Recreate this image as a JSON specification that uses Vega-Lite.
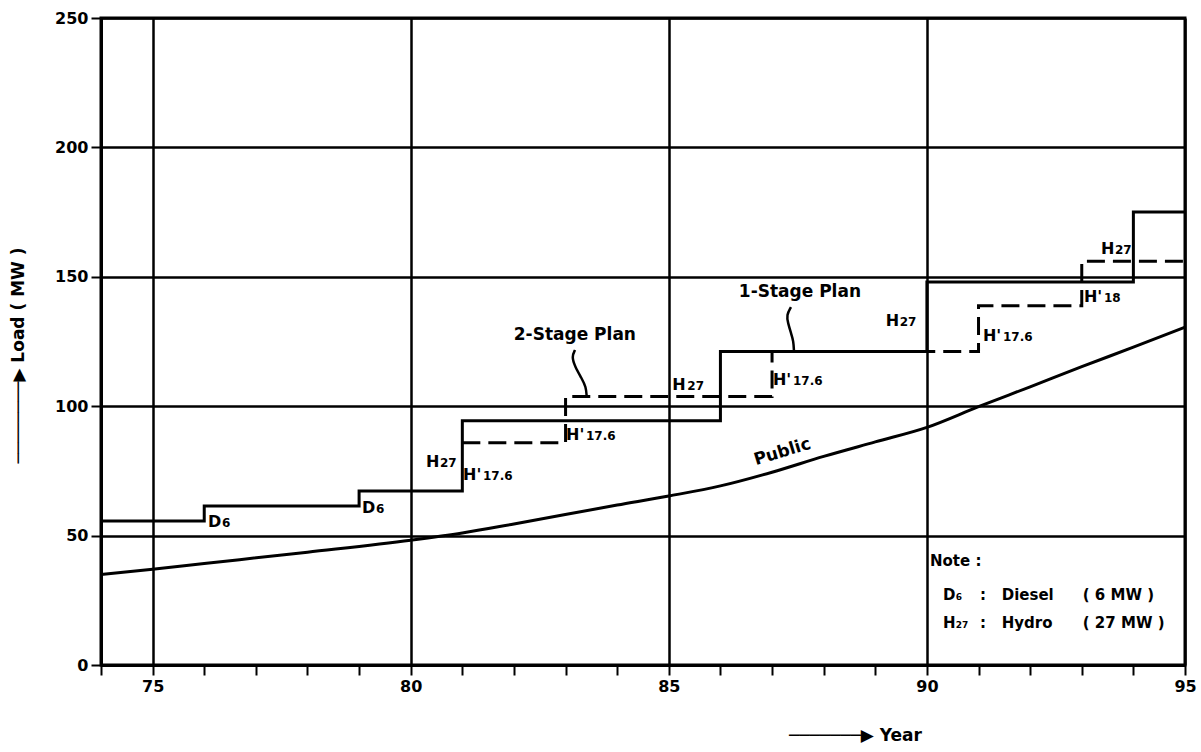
{
  "$schema": "https://vega.github.io/schema/vega-lite/v6.json",
  "width": 1084,
  "height": 647,
  "autosize": {"type": "none"},
  "padding": {"left": 101, "top": 18, "right": 16, "bottom": 87},
  "background": "white",
  "config": {
    "font": "DejaVu Sans",
    "view": {"stroke": "black", "strokeWidth": 3},
    "axis": {
      "domainColor": "black", "domainWidth": 3,
      "tickColor": "black", "tickWidth": 2,
      "labelColor": "black", "labelFont": "DejaVu Sans", "labelFontWeight": "bold", "labelFontSize": 16,
      "titleColor": "black", "titleFont": "DejaVu Sans", "titleFontWeight": "bold", "titleFontSize": 17,
      "gridColor": "black", "labelFlush": false, "labelOverlap": false
    }
  },
  "datasets": {
    "oneStage": [
      {"x": 74, "y": 55.6}, {"x": 76, "y": 61.4}, {"x": 79, "y": 67.2}, {"x": 81, "y": 94.4},
      {"x": 86, "y": 121.1}, {"x": 90, "y": 148}, {"x": 94, "y": 175}, {"x": 95, "y": 175}
    ],
    "twoStage": [
      {"x": 81, "y": 85.9}, {"x": 83, "y": 103.7}, {"x": 87, "y": 121.1},
      {"x": 91, "y": 138.8}, {"x": 93, "y": 156}, {"x": 95, "y": 156}
    ],
    "public": [
      {"x": 74, "y": 35}, {"x": 75, "y": 37}, {"x": 76, "y": 39.2}, {"x": 78, "y": 43.6},
      {"x": 80, "y": 48.2}, {"x": 81, "y": 51}, {"x": 82, "y": 54.5}, {"x": 84, "y": 61.8},
      {"x": 85, "y": 65.3}, {"x": 86, "y": 69.2}, {"x": 87, "y": 74.5}, {"x": 88, "y": 80.6},
      {"x": 89, "y": 86.2}, {"x": 90, "y": 91.8}, {"x": 91, "y": 99.8}, {"x": 92, "y": 107.5},
      {"x": 93, "y": 115.3}, {"x": 94, "y": 122.8}, {"x": 95, "y": 130.5}
    ],
    "leaders": [
      {"id": "one", "i": 1, "x": 87.367, "y": 138.3},
      {"id": "one", "i": 2, "x": 87.28, "y": 135.2},
      {"id": "one", "i": 3, "x": 87.309, "y": 132.1},
      {"id": "one", "i": 4, "x": 87.367, "y": 128.3},
      {"id": "one", "i": 5, "x": 87.415, "y": 125.2},
      {"id": "one", "i": 6, "x": 87.425, "y": 121.1},
      {"id": "two", "i": 1, "x": 83.183, "y": 121.7},
      {"id": "two", "i": 2, "x": 83.118, "y": 119.1},
      {"id": "two", "i": 3, "x": 83.183, "y": 115.3},
      {"id": "two", "i": 4, "x": 83.311, "y": 110.8},
      {"id": "two", "i": 5, "x": 83.396, "y": 107.5},
      {"id": "two", "i": 6, "x": 83.409, "y": 103.7}
    ],
    "labMain": [
      {"x": 76.073, "y": 53.3, "t": "D"},
      {"x": 79.056, "y": 58.9, "t": "D"},
      {"x": 80.296, "y": 76.5, "t": "H"},
      {"x": 81.013, "y": 71.5, "t": "H'"},
      {"x": 83.008, "y": 86.9, "t": "H'"},
      {"x": 85.067, "y": 106.1, "t": "H"},
      {"x": 87.018, "y": 108.2, "t": "H'"},
      {"x": 89.202, "y": 131.0, "t": "H"},
      {"x": 91.086, "y": 125.2, "t": "H'"},
      {"x": 93.043, "y": 140.1, "t": "H'"},
      {"x": 93.372, "y": 159.0, "t": "H"}
    ],
    "labSub": [
      {"x": 76.344, "y": 53.3, "t": "6"},
      {"x": 79.327, "y": 58.9, "t": "6"},
      {"x": 80.567, "y": 76.5, "t": "27"},
      {"x": 81.4, "y": 71.5, "t": "17.6"},
      {"x": 83.396, "y": 86.9, "t": "17.6"},
      {"x": 85.358, "y": 106.1, "t": "27"},
      {"x": 87.405, "y": 108.2, "t": "17.6"},
      {"x": 89.473, "y": 131.0, "t": "27"},
      {"x": 91.474, "y": 125.2, "t": "17.6"},
      {"x": 93.43, "y": 140.1, "t": "18"},
      {"x": 93.643, "y": 159.0, "t": "27"}
    ],
    "titles": [
      {"x": 87.54, "y": 144.3, "t": "1-Stage Plan"},
      {"x": 83.18, "y": 127.7, "t": "2-Stage Plan"}
    ],
    "publicLabel": [
      {"x": 87.2, "y": 82.3, "t": "Public"}
    ],
    "noteText": [
      {"x": 90.06, "y": 38.3, "t": "Note :"},
      {"x": 90.31, "y": 25.1, "t": "D"},
      {"x": 91.03, "y": 25.1, "t": ":"},
      {"x": 91.45, "y": 25.1, "t": "Diesel"},
      {"x": 93.02, "y": 25.1, "t": "( 6 MW )"},
      {"x": 90.31, "y": 14.3, "t": "H"},
      {"x": 91.03, "y": 14.3, "t": ":"},
      {"x": 91.45, "y": 14.3, "t": "Hydro"},
      {"x": 93.02, "y": 14.3, "t": "( 27 MW )"}
    ],
    "noteSub": [
      {"x": 90.56, "y": 25.1, "t": "6"},
      {"x": 90.56, "y": 14.3, "t": "27"}
    ]
  },
  "encoding": {
    "x": {
      "field": "x", "type": "quantitative",
      "scale": {"domain": [74, 95], "nice": false, "zero": false},
      "axis": {
        "values": [74, 75, 76, 77, 78, 79, 80, 81, 82, 83, 84, 85, 86, 87, 88, 89, 90, 91, 92, 93, 94, 95],
        "labelExpr": "datum.value % 5 === 0 ? datum.label : ''",
        "grid": true, "gridWidth": 2.5,
        "gridOpacity": {"condition": {"test": "datum.value % 5 === 0", "value": 1}, "value": 0},
        "tickSize": 10, "labelPadding": 3,
        "title": "───────▶ Year",
        "titleX": 754, "titleY": 70, "titleAlign": "center", "titleBaseline": "middle", "titleAngle": 0
      }
    },
    "y": {
      "field": "y", "type": "quantitative",
      "scale": {"domain": [0, 250], "nice": false, "zero": true},
      "axis": {
        "values": [0, 50, 100, 150, 200, 250],
        "grid": true, "gridWidth": 2.5,
        "tickSize": 10, "labelPadding": 3,
        "title": "────────▶ Load ( MW )",
        "titleX": -83, "titleY": 337, "titleAlign": "center", "titleBaseline": "middle", "titleAngle": 270
      }
    }
  },
  "layer": [
    {
      "data": {"name": "public"},
      "mark": {"type": "line", "interpolate": "monotone", "color": "black", "strokeWidth": 3}
    },
    {
      "data": {"name": "oneStage"},
      "mark": {"type": "line", "interpolate": "step-after", "color": "black", "strokeWidth": 3}
    },
    {
      "data": {"name": "twoStage"},
      "mark": {"type": "line", "interpolate": "step-after", "color": "black", "strokeWidth": 3, "strokeDash": [18, 8]}
    },
    {
      "data": {"name": "leaders"},
      "mark": {"type": "line", "interpolate": "basis", "color": "black", "strokeWidth": 2.5},
      "encoding": {
        "detail": {"field": "id", "type": "nominal"},
        "order": {"field": "i", "type": "quantitative"}
      }
    },
    {
      "data": {"name": "labMain"},
      "mark": {"type": "text", "align": "left", "baseline": "alphabetic", "fontSize": 16, "fontWeight": "bold", "color": "black"},
      "encoding": {"text": {"field": "t", "type": "nominal"}}
    },
    {
      "data": {"name": "labSub"},
      "mark": {"type": "text", "align": "left", "baseline": "alphabetic", "fontSize": 12, "fontWeight": "bold", "color": "black"},
      "encoding": {"text": {"field": "t", "type": "nominal"}}
    },
    {
      "data": {"name": "titles"},
      "mark": {"type": "text", "align": "center", "baseline": "middle", "fontSize": 17, "fontWeight": "bold", "color": "black"},
      "encoding": {"text": {"field": "t", "type": "nominal"}}
    },
    {
      "data": {"name": "publicLabel"},
      "mark": {"type": "text", "align": "center", "baseline": "middle", "fontSize": 17, "fontWeight": "bold", "color": "black", "angle": -17},
      "encoding": {"text": {"field": "t", "type": "nominal"}}
    },
    {
      "data": {"name": "noteText"},
      "mark": {"type": "text", "align": "left", "baseline": "alphabetic", "fontSize": 15, "fontWeight": "bold", "color": "black"},
      "encoding": {"text": {"field": "t", "type": "nominal"}}
    },
    {
      "data": {"name": "noteSub"},
      "mark": {"type": "text", "align": "left", "baseline": "alphabetic", "fontSize": 9, "fontWeight": "bold", "color": "black"},
      "encoding": {"text": {"field": "t", "type": "nominal"}}
    }
  ]
}
